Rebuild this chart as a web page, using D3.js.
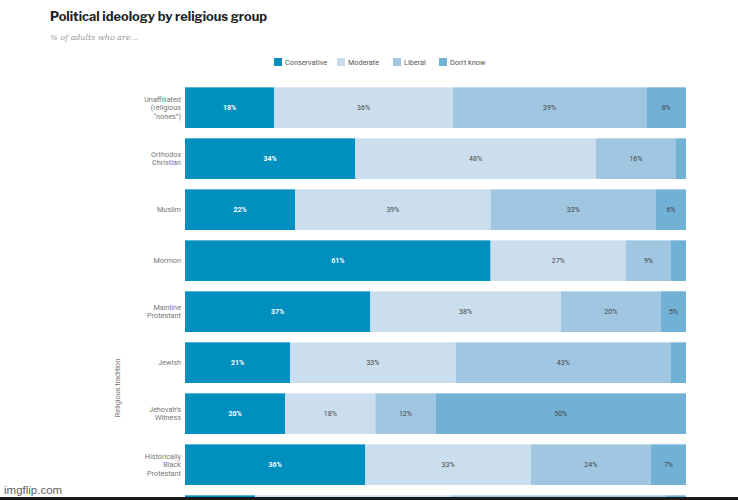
<!DOCTYPE html>
<html>
<head>
<meta charset="utf-8">
<script src="https://cdn.jsdelivr.net/npm/d3@7/dist/d3.min.js"></script>
<style>
  html, body { margin: 0; padding: 0; background: #fff; }
  svg { display: block; }
</style>
</head>
<body>
<svg id="chart" width="738" height="500"></svg>
<script>
// ---- data ----
const categories = [
  ["Unaffiliated", "(religious", "\u201cnones\u201d)"],
  ["Orthodox", "Christian"],
  ["Muslim"],
  ["Mormon"],
  ["Mainline", "Protestant"],
  ["Jewish"],
  ["Jehovah\u2019s", "Witness"],
  ["Historically", "Black", "Protestant"],
  ["Buddhist"]
];
const seriesNames = ["Conservative", "Moderate", "Liberal", "Don't know"];
const conservative = [18, 34, 22, 61, 37, 21, 20, 36, 14];
const moderate     = [36, 48, 39, 27, 38, 33, 18, 33, 39];
const liberal      = [39, 16, 33,  9, 20, 43, 12, 24, 43];
const dontKnow     = [ 8,  2,  6,  3,  5,  3, 50,  7,  4];
const colors = ["#008fbf", "#cadeee", "#a0c6e1", "#72b1d6"];

const svg = d3.select("#chart");
const W = 738, H = 500;

// title & subtitle
svg.append("text").attr("x", 50).attr("y", 21)
  .attr("font-family", "'Libre Franklin', 'Roboto', 'Liberation Sans', sans-serif")
  .attr("font-weight", 700).attr("font-size", 12.8).attr("fill", "#222")
  .text("Political ideology by religious group");
svg.append("text").attr("x", 50).attr("y", 40)
  .attr("font-family", "'DejaVu Serif', 'Liberation Serif', serif")
  .attr("font-style", "italic").attr("font-size", 8).attr("fill", "#999")
  .text("% of adults who are...");

// scales
const keys = categories.map(c => c.join(" "));
const x = d3.scaleLinear().domain([0, 1]).range([185, 686]);
const y = d3.scaleBand().domain(keys).range([82, 82 + 51 * 9])
  .paddingInner(10 / 51).paddingOuter(5 / 51);

// stacked data (each row normalised to its total, as rounded values may not sum to 100)
const table = keys.map((k, i) => ({
  key: k,
  "Conservative": conservative[i],
  "Moderate": moderate[i],
  "Liberal": liberal[i],
  "Don't know": dontKnow[i]
}));
const stack = d3.stack().keys(seriesNames).offset(d3.stackOffsetExpand)(table);

const visible = d => y(d.data.key) + y.bandwidth() / 2 + 3 < H;

const g = svg.append("g");
stack.forEach((layer, li) => {
  const name = seriesNames[li];
  const lg = g.append("g");
  lg.selectAll("rect").data(layer).join("rect")
    .attr("x", d => x(d[0]))
    .attr("y", d => y(d.data.key))
    .attr("width", d => x(d[1]) - x(d[0]))
    .attr("height", y.bandwidth())
    .attr("fill", colors[li]);
  // lighter top edge
  lg.selectAll("line").data(layer).join("line")
    .attr("x1", d => x(d[0])).attr("x2", d => x(d[1]))
    .attr("y1", d => y(d.data.key) + 0.5).attr("y2", d => y(d.data.key) + 0.5)
    .attr("stroke", "#ffffff").attr("stroke-opacity", 0.35);
  lg.selectAll("text").data(layer.filter(d => d.data[name] >= 5 && visible(d))).join("text")
    .attr("x", d => (x(d[0]) + x(d[1])) / 2)
    .attr("y", d => y(d.data.key) + y.bandwidth() / 2 + 2.5)
    .attr("text-anchor", "middle")
    .attr("font-family", "'Roboto', 'Liberation Sans', sans-serif")
    .attr("font-size", 7)
    .attr("font-weight", li === 0 ? 700 : 400)
    .attr("fill", li === 0 ? "#ffffff" : "#444")
    .text(d => d.data[name] + "%");
});

// y-axis labels
const yl = svg.append("g");
categories.forEach((lines, i) => {
  const cy = y(keys[i]) + y.bandwidth() / 2;
  if (cy + 3 > H) return;
  const lh = 8.5;
  const t = yl.append("text")
    .attr("text-anchor", "end")
    .attr("font-family", "'Roboto', 'Liberation Sans', sans-serif")
    .attr("font-size", 7.3).attr("fill", "#777");
  lines.forEach((ln, j) => {
    t.append("tspan").attr("x", 181)
      .attr("y", cy + 2.5 + (j - (lines.length - 1) / 2) * lh)
      .text(ln);
  });
});

// y-axis title
svg.append("text")
  .attr("transform", "translate(120,388) rotate(-90)")
  .attr("text-anchor", "middle")
  .attr("font-family", "'Roboto', 'Liberation Sans', sans-serif")
  .attr("font-size", 7.3).attr("fill", "#777")
  .text("Religious tradition");

// legend
const legendX = [274, 337, 393, 439];
const lgd = svg.append("g");
seriesNames.forEach((s, i) => {
  lgd.append("rect").attr("x", legendX[i]).attr("y", 58)
    .attr("width", 8).attr("height", 8).attr("fill", colors[i]);
  lgd.append("text").attr("x", legendX[i] + 11).attr("y", 65)
    .attr("font-family", "'Roboto', 'Liberation Sans', sans-serif")
    .attr("font-size", 7.3).attr("fill", "#555").text(s);
});

// screenshot artifacts
svg.append("rect").attr("x", 0).attr("y", 497).attr("width", W).attr("height", 3).attr("fill", "#1a1a1a");
svg.append("text").attr("x", 4).attr("y", 494)
  .attr("font-family", "'Liberation Sans', Arial, sans-serif")
  .attr("font-size", 11.5).attr("fill", "#444").attr("opacity", 0.85)
  .text("imgflip.com");
</script>
</body>
</html>
